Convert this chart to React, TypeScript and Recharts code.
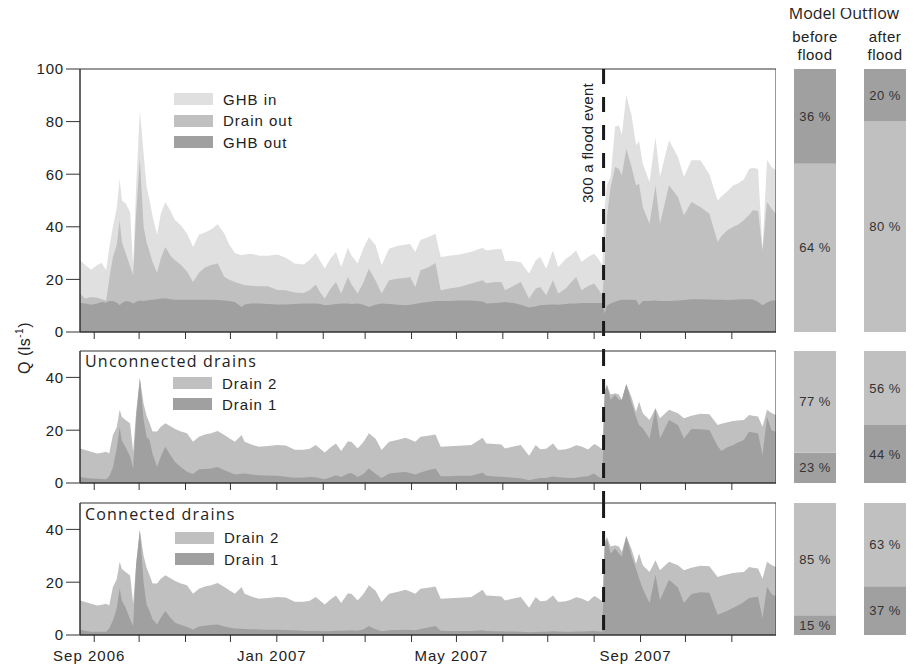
import React from 'react';
import {
  AreaChart,
  Area,
  XAxis,
  YAxis,
  ReferenceLine,
  ReferenceArea,
  Legend,
  BarChart,
  Bar,
  LabelList
} from 'recharts';

// days counted from 1 Sep 2006
const days = [
  -9.5, -6, -2, 2, 5, 8, 10, 12.5, 15, 17,
  18.5, 21, 24, 26, 28, 30.5, 33, 35, 37, 39,
  42, 44.5, 47.5, 51, 54, 58, 62, 66, 70, 74,
  78, 82.5, 87, 90, 94, 98.5, 100.5, 105, 110, 116,
  122.5, 128, 134, 140, 144, 148, 151, 154, 158, 161.5,
  165, 169.5, 172, 176, 180, 183.5, 188, 192, 197, 203,
  208, 211, 214.5, 218, 223, 228, 231.5, 237, 244, 252,
  259.5, 262, 268, 272, 274.5, 280, 285, 290.5, 295, 298,
  302, 306.5, 310, 315, 318, 322, 325.5, 330, 334, 336.5,
  339.5, 341, 342.5, 345, 348, 350.5, 352.5, 355.5, 359, 362,
  364, 366.5, 371, 375, 378, 384, 390, 394, 399, 405,
  411, 416.5, 419, 423, 427, 430, 434, 437.5, 440, 443.5,
  446.5, 449.5, 452.5, 455.5
];

const ghbIn = [
  27.3, 25.5, 23.7, 25.5, 26.2, 23.5, 32, 40, 47, 58.3,
  50, 49, 45.5, 25, 55, 84, 68, 55, 50, 44,
  37, 45, 49.4, 46, 42.5, 40.5, 37.5, 32.3, 37, 37.8,
  39, 41, 37.4, 33.5, 30, 29.2, 29.5, 29.8, 29, 29,
  29.5, 28.2, 26, 25.7, 27.5, 30, 27, 24.1, 28, 30.4,
  24.7, 32, 29, 26, 32, 36, 33, 25.4, 31.7, 32.8,
  33.2, 33.6, 30.4, 35, 36, 37.4, 28.5, 29, 29.5, 30.5,
  32, 31, 31.5, 31.7, 27, 27, 26.5, 22.2, 27.3, 28.5,
  24.1, 31, 24.7, 27.8, 29, 31, 26.6, 28.5, 29.8, 28,
  25.5, 47.5, 55.8, 59, 78, 78.6, 75, 90, 82.4, 71,
  72.5, 64, 57, 74, 59, 72.9, 66.5, 58.9, 65.3, 65.3,
  60, 50, 51.5, 53.5, 55.8, 56.5, 58, 62, 62.5, 62,
  31.5, 65.5, 62.7, 61.5
];

const drainOut = [
  14.6, 12.7, 13.3, 13, 12.5, 12, 20, 28.5, 33, 42.5,
  34.2, 30, 25, 21.6, 45, 66, 40, 34, 30.5, 26.5,
  22.5, 28, 32.3, 29, 27.3, 25.5, 23, 19, 22.5, 24.5,
  25.5, 26, 20.9, 20, 19, 18.2, 17.8, 17.6, 17.4, 17.4,
  16, 15.9, 15, 14.8, 16, 18.1, 15, 12.7, 16.5, 19,
  14.6, 20.9, 18, 14.6, 19, 24.1, 19.5, 14.6, 19.7, 20.3,
  20.5, 20.9, 17.1, 23.5, 24.5, 26.2, 15.9, 16.5, 17.1, 18.4,
  19.7, 18.5, 19, 19, 15.9, 17.5, 19, 12.7, 16.5, 17.1,
  14, 19.7, 14.6, 16.5, 18.5, 20.9, 15.9, 17.5, 18.4, 16.5,
  14, 24.7, 43.7, 55, 62.7, 62.1, 59.6, 69.7, 62.7, 55.8,
  56.4, 47.5, 41.2, 55.8, 41.2, 55.8, 51.3, 44.4, 49.4, 47.5,
  45, 34.2, 36.5, 38.7, 40, 40.8, 42.5, 44.5, 46.3, 46,
  31, 49.4, 47, 45
];

const ghbOut = [
  11, 10.8, 10.4, 10.8, 11.4, 11.2, 11.8, 11.8, 11.2, 10.2,
  11, 11.8, 11.5, 10.8, 11.5, 12, 11.8, 12, 12.2, 12.3,
  12.5, 12.7, 12.7, 12.5, 12.3, 12.3, 12.3, 12.3, 12.3, 12.3,
  12.3, 12.2, 12, 11.8, 11.4, 9.5, 10.5, 10.8, 10.8, 10.6,
  10.5, 10.5, 10.6, 10.8, 10.8, 10.8, 10.6, 10.2, 10.4, 10.6,
  10.8, 10.8, 10.6, 10.8, 10.4, 9.5, 10.4, 10.8, 10.6, 10.4,
  10.2, 10.4, 10.6, 11, 11.4, 11.8, 11.8, 11.8, 12, 12,
  11.6, 10.8, 11, 11.2, 11.4, 11, 10.4, 9.3, 9.8, 10.2,
  10.4, 10.5, 10.4, 10.6, 10.8, 10.8, 11, 11, 11, 11,
  11, 7, 10, 10.8, 11.5, 12, 12.3, 12.3, 12.3, 12.3,
  10.2, 11.8, 11.8, 12, 11.8, 11.8, 12, 12.2, 12.5, 12.5,
  12.4, 12.3, 12.3, 12.2, 12.3, 12.4, 12.5, 12.5, 12.4, 11.5,
  10.2, 11.2, 12, 12
];

// Drain 1 + Drain 2 (upper edge of the Drain 2 band)
const drainTotal = [
  13.1, 12.5, 11.8, 11.2, 11.5, 11.8, 11.2, 18.2, 21, 27.7,
  25, 23.9, 22.5, 11.8, 27, 39.8, 30, 25.5, 22.6, 19.5,
  19.5, 21.3, 22.6, 21.5, 20.5, 19.5, 18.8, 15.6, 17.5, 18.4,
  18.8, 19.7, 18.2, 17, 15.6, 18.2, 15.6, 14.6, 13.7, 14,
  14.4, 14.2, 12.6, 12.6, 13, 14.4, 13, 11.6, 13.5, 15,
  12.1, 15.8, 15.5, 13.1, 15.6, 18.8, 16.8, 12.5, 15.6, 16.4,
  17.1, 16.5, 15.6, 17.5, 17.9, 18.4, 13.7, 13.9, 14.1, 14.4,
  17.1, 15, 14.8, 14.6, 13.1, 13.8, 14.4, 10.3, 14.4, 12.8,
  13, 15, 12.5, 12.8, 13.3, 14.3, 13.8, 12.7, 14.8, 14,
  12.8, 35, 37.2, 33.5, 34, 33.5, 31.5, 37.5, 32.5, 27,
  30.9, 26.4, 23.9, 28.3, 24.5, 27.7, 26.4, 24.5, 25.5, 26.2,
  26, 22, 22.4, 23, 23.5, 23.7, 23.9, 25.8, 25.5, 25.2,
  21.3, 27.7, 26.5, 25.8
];

const uncDrain1 = [
  2.3, 2, 1.7, 1.6, 1.5, 1.4, 2.5, 6, 13, 21,
  16, 13.5, 10, 5.5, 24.5, 39.8, 24, 17.5, 16.3, 11,
  6.1, 10, 13.7, 10.5, 8, 6, 4.3, 3.4, 5.2, 5.3,
  5.5, 6.1, 4.8, 4.2, 3.2, 3.5, 3.6, 3.2, 2.9, 2.8,
  2.7, 2.4, 2, 2.1, 2.3, 2.2, 1.8, 1.4, 2.2, 2.9,
  2.3, 3.6, 3.8, 2.3, 3.5, 5.5, 3.5, 1.9, 3.6, 4,
  4.2, 3.8, 3.2, 4, 4.8, 5.5, 2.6, 2.6, 2.7, 2.7,
  4, 2.7, 2.5, 2.4, 2.3, 2, 1.8, 1, 1.6, 1.9,
  1.9, 2.5, 2.2, 2, 1.9, 2, 2.4, 2.6, 3.6, 2.5,
  1.7, 33, 37.2, 31.5, 33.4, 31.5, 31.5, 37.5, 30.5, 25,
  22, 20.7, 16.9, 28.3, 16.9, 23.9, 22, 16.9, 20.5, 20.4,
  20.1, 14, 12.1, 13.5, 14.4, 15.3, 16.3, 19.4, 19.1, 18.8,
  10.6, 25, 20, 19.4
];

const conDrain1 = [
  2.1, 1.6, 1.2, 1.2, 1.2, 1.2, 2.5, 5.5, 10, 17.8,
  13, 10.3, 6, 3.4, 26.6, 39.8, 20, 11.5, 9.1, 6,
  4, 6.5, 9.1, 6.5, 4.6, 3.8, 3, 2.1, 3.2, 3.5,
  3.8, 4, 3.2, 2.8, 2.5, 2.4, 2.3, 2.2, 2.1, 2,
  2, 1.9, 1.8, 1.6, 1.5, 1.6, 1.5, 1.4, 1.5, 1.6,
  1.6, 1.7, 1.8, 1.6, 2.2, 3.4, 2.2, 1.4, 1.8, 1.9,
  2, 1.9, 1.8, 2.3, 2.8, 3.4, 1.6, 1.5, 1.5, 1.5,
  1.8, 1.5, 1.4, 1.4, 1.3, 1.3, 1.2, 1, 1.1, 1.2,
  1.2, 1.4, 1.3, 1.2, 1.2, 1.3, 1.3, 1.4, 1.6, 1.4,
  1.2, 33, 36.6, 30.9, 32.8, 31, 29.7, 37.5, 30, 25,
  21.5, 17.5, 12.1, 22.8, 13.3, 20.9, 18, 12.1, 15.5, 16.2,
  16, 7.7, 8.2, 9.2, 10.3, 11.2, 12.5, 14, 14.2, 14.5,
  6.4, 18.3, 15.5, 14.6
];

const monthStarts = [0, 30, 61, 91, 122, 153, 181, 212, 242, 273, 303, 334, 365, 395, 426];
const monthLabels = ['Sep 2006', '', '', '', 'Jan 2007', '', '', '', 'May 2007', '', '', '', 'Sep 2007', '', ''];
const floodDay = 340.3;
const xDomain = [-9.5, 455.5];

// model outflow shares (%), [before flood, after flood]
const ghbOutShare = [36, 20];
const drainOutShare = [64, 80];
const uncDrain1Share = [23, 44];
const uncDrain2Share = [77, 56];
const conDrain1Share = [15, 37];
const conDrain2Share = [85, 63];

const flowData = days.map((d, i) => ({
  d,
  ghbIn: ghbIn[i],
  drainOut: drainOut[i],
  ghbOut: ghbOut[i],
  total: drainTotal[i],
  unc1: uncDrain1[i],
  con1: conDrain1[i]
}));

const LIGHT = '#e0e0e0';
const MID = '#c0c0c0';
const DARK = '#a0a0a0';
const INK = '#222';
const FONT = 'Arial, "Liberation Sans", sans-serif';
const TITLE_FONT = '"Open Sans", sans-serif';

type Series = { key: string; name: string; color: string };

const topSeries: Series[] = [
  { key: 'ghbIn', name: 'GHB in', color: LIGHT },
  { key: 'drainOut', name: 'Drain out', color: MID },
  { key: 'ghbOut', name: 'GHB out', color: DARK }
];
const uncSeries: Series[] = [
  { key: 'total', name: 'Drain 2', color: MID },
  { key: 'unc1', name: 'Drain 1', color: DARK }
];
const conSeries: Series[] = [
  { key: 'total', name: 'Drain 2', color: MID },
  { key: 'con1', name: 'Drain 1', color: DARK }
];

const LegendBox = ({ series, rowHeight }: { series: Series[]; rowHeight: number }) => (
  <div>
    {series.map((s) => (
      <div
        key={s.name}
        style={{ display: 'flex', alignItems: 'center', height: rowHeight }}
      >
        <div style={{ width: 39, height: 12, background: s.color, marginRight: 10 }} />
        <span style={{ fontFamily: FONT, fontSize: 15, letterSpacing: 1, color: INK }}>
          {s.name}
        </span>
      </div>
    ))}
  </div>
);

const DateTick = ({ x, y, payload, show }: any) => {
  if (!show) return <g />;
  const label = monthLabels[monthStarts.indexOf(payload.value)] || '';
  return (
    <text
      x={x - 5}
      y={y}
      dy="0.71em"
      textAnchor="middle"
      fill={INK}
      fontSize={15}
      fontFamily={FONT}
      letterSpacing={1}
    >
      {label}
    </text>
  );
};

interface PanelProps {
  top: number;
  plotHeight: number;
  yMax: number;
  yTicks: number[];
  series: Series[];
  dashEnd: number;
  legendLeft: number;
  legendTop: number;
  rowHeight: number;
  showDates?: boolean;
}

const FlowPanel: React.FC<PanelProps> = ({
  top,
  plotHeight,
  yMax,
  yTicks,
  series,
  dashEnd,
  legendLeft,
  legendTop,
  rowHeight,
  showDates = false
}) => {
  const axisHeight = showDates ? 30 : 20;
  return (
    <div style={{ position: 'absolute', left: 0, top }}>
      <AreaChart
        width={768}
        height={11 + plotHeight + axisHeight}
        data={flowData}
        margin={{ top: 11, right: 0, bottom: 0, left: 0 }}
      >
        <XAxis
          type="number"
          dataKey="d"
          domain={xDomain}
          ticks={monthStarts}
          allowDataOverflow
          height={axisHeight}
          tickSize={7}
          tickMargin={8}
          stroke="#333"
          tick={(p: any) => <DateTick {...p} show={showDates} />}
        />
        <YAxis
          type="number"
          domain={[0, yMax]}
          ticks={yTicks}
          allowDataOverflow
          width={72}
          tickSize={14}
          stroke="#333"
          tick={{ fontSize: 15, fill: INK, fontFamily: FONT, letterSpacing: 0.8 }}
        />
        {series.map((s) => (
          <Area
            key={s.key}
            type="linear"
            dataKey={s.key}
            name={s.name}
            stroke="none"
            fill={s.color}
            fillOpacity={1}
            dot={false}
            activeDot={false}
            isAnimationActive={false}
          />
        ))}
        <ReferenceArea
          x1={xDomain[0]}
          x2={xDomain[1]}
          y1={0}
          y2={yMax}
          fill="none"
          stroke="#333"
          strokeWidth={1}
          ifOverflow="visible"
        />
        <ReferenceLine
          segment={[
            { x: floodDay, y: yMax },
            { x: floodDay, y: dashEnd }
          ]}
          stroke="#1a1a1a"
          strokeWidth={3}
          strokeDasharray="15 13"
          ifOverflow="visible"
        />
        <Legend
          layout="vertical"
          align="center"
          verticalAlign="middle"
          wrapperStyle={{ left: legendLeft, top: legendTop, width: 'auto', height: 'auto' }}
          content={() => <LegendBox series={series} rowHeight={rowHeight} />}
        />
      </AreaChart>
    </div>
  );
};

interface ShareProps {
  left: number;
  top: number;
  height: number;
  lower: number;
  upper: number;
  lowerColor: string;
  upperColor: string;
}

const pct = (v: any) => `${v} %`;

const ShareBar: React.FC<ShareProps> = ({ left, top, height, lower, upper, lowerColor, upperColor }) => (
  <div style={{ position: 'absolute', left, top }}>
    <BarChart
      width={42}
      height={height}
      data={[{ lower, upper }]}
      margin={{ top: 0, right: 0, bottom: 0, left: 0 }}
      barCategoryGap={0}
    >
      <XAxis hide />
      <YAxis hide domain={[0, 100]} />
      <Bar dataKey="lower" stackId="s" fill={lowerColor} isAnimationActive={false}>
        <LabelList
          dataKey="lower"
          position="center"
          formatter={pct}
          fill="#333"
          fontSize={13}
          fontFamily={FONT}
          letterSpacing={0.5}
        />
      </Bar>
      <Bar dataKey="upper" stackId="s" fill={upperColor} isAnimationActive={false}>
        <LabelList
          dataKey="upper"
          position="center"
          formatter={pct}
          fill="#333"
          fontSize={13}
          fontFamily={FONT}
          letterSpacing={0.5}
        />
      </Bar>
    </BarChart>
  </div>
);

const colLeft = [785.5, 856];

const App: React.FC = () => {
  const headStyle: React.CSSProperties = {
    position: 'absolute',
    transform: 'translateX(-50%)',
    textAlign: 'center',
    fontFamily: FONT,
    fontSize: 15,
    lineHeight: '18px',
    letterSpacing: 0.5,
    color: INK,
    whiteSpace: 'nowrap'
  };
  const titleStyle: React.CSSProperties = {
    position: 'absolute',
    fontFamily: TITLE_FONT,
    fontSize: 16,
    lineHeight: '22px',
    letterSpacing: 1.2,
    color: INK,
    whiteSpace: 'nowrap'
  };
  return (
    <div style={{ position: 'relative', width: 901, height: 660, fontFamily: FONT }}>
      <FlowPanel
        top={50}
        plotHeight={263}
        yMax={100}
        yTicks={[0, 20, 40, 60, 80, 100]}
        series={topSeries}
        dashEnd={-7.3}
        legendLeft={166}
        legendTop={30.5}
        rowHeight={21.5}
      />
      <FlowPanel
        top={332}
        plotHeight={132}
        yMax={50}
        yTicks={[0, 20, 40]}
        series={uncSeries}
        dashEnd={-7.6}
        legendLeft={165}
        legendTop={32.8}
        rowHeight={21}
      />
      <FlowPanel
        top={484}
        plotHeight={132}
        yMax={50}
        yTicks={[0, 20, 40]}
        series={conSeries}
        dashEnd={0}
        legendLeft={167}
        legendTop={35.2}
        rowHeight={21.3}
        showDates
      />

      {[0, 1].map((i) => (
        <React.Fragment key={i}>
          <ShareBar
            left={colLeft[i]}
            top={61}
            height={263}
            lower={drainOutShare[i]}
            upper={ghbOutShare[i]}
            lowerColor={MID}
            upperColor={DARK}
          />
          <ShareBar
            left={colLeft[i]}
            top={343}
            height={132}
            lower={uncDrain1Share[i]}
            upper={uncDrain2Share[i]}
            lowerColor={DARK}
            upperColor={MID}
          />
          <ShareBar
            left={colLeft[i]}
            top={495}
            height={132}
            lower={conDrain1Share[i]}
            upper={conDrain2Share[i]}
            lowerColor={DARK}
            upperColor={MID}
          />
        </React.Fragment>
      ))}

      <div style={{ ...titleStyle, left: 836, top: -6, letterSpacing: 0, transform: 'translateX(-50%)' }}>
        Model Outflow
      </div>
      <div style={{ ...headStyle, left: 807, top: 20 }}>
        before
        <br />
        flood
      </div>
      <div style={{ ...headStyle, left: 877, top: 20 }}>
        after
        <br />
        flood
      </div>

      <div style={{ ...titleStyle, left: 77, top: 342 }}>Unconnected drains</div>
      <div style={{ ...titleStyle, left: 77, top: 495 }}>Connected drains</div>

      <div
        style={{
          position: 'absolute',
          left: 579,
          top: 135,
          transform: 'translate(-50%, -50%) rotate(-90deg)',
          fontFamily: FONT,
          fontSize: 15,
          letterSpacing: 0.3,
          color: INK,
          whiteSpace: 'nowrap'
        }}
      >
        300 a flood event
      </div>

      <div
        style={{
          position: 'absolute',
          left: 16,
          top: 340,
          transform: 'translate(-50%, -50%) rotate(-90deg)',
          fontFamily: FONT,
          fontSize: 16,
          letterSpacing: 0.5,
          color: INK,
          whiteSpace: 'nowrap'
        }}
      >
        Q (ls<sup style={{ fontSize: 10 }}>-1</sup>)
      </div>
    </div>
  );
};

export default App;
